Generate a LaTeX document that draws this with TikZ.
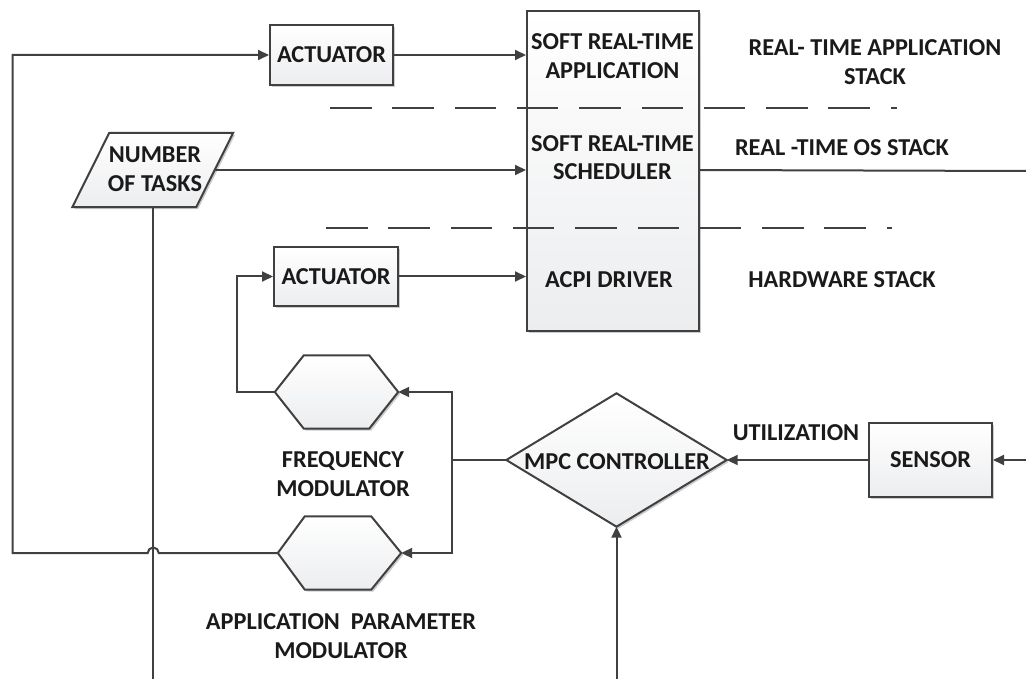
\documentclass[tikz,border=0pt]{standalone}
\usepackage{fontspec}
\setmainfont{Carlito}
\usetikzlibrary{arrows.meta,shadows,calc}
\definecolor{ink}{HTML}{1A1A1A}
\definecolor{wire}{HTML}{404040}
\definecolor{shadeend}{HTML}{ECEDEF}
\tikzset{
  lbl/.style={font=\bfseries\fontsize{24.3}{28.5}\selectfont, text=ink, align=center, inner sep=0pt},
  boxfill/.style={draw=wire, line width=2pt, top color=white, bottom color=shadeend,
    drop shadow={shadow xshift=2pt, shadow yshift=-2pt, opacity=0.2, fill=black}},
  blockbox/.style={boxfill, rectangle, inner sep=0pt},
  ghost/.style={rectangle, inner sep=0pt},
  wireline/.style={draw=wire, line width=2pt},
  flow/.style={wireline, -{Triangle[length=11pt,width=10pt]}},
  layerline/.style={draw=wire, line width=2pt, dash pattern=on 41.5pt off 20.8pt}
}
\begin{document}
\begin{tikzpicture}[x=1pt, y=-1pt]
\useasboundingbox (0,0) rectangle (1026,679);

% software stack block with its three layers
\node (stack) [blockbox, minimum width=172pt, minimum height=320pt] at (613,171) {};
\node (app)   [lbl] at (612.5,56) {SOFT REAL-TIME\\APPLICATION};
\node (sched) [lbl] at (612.5,157.5) {SOFT REAL-TIME\\SCHEDULER};
\node (acpi)  [lbl] at (609,280) {ACPI DRIVER};

% layer separators
\path[layerline] (330,108) -- (897,108);
\path[layerline] (326,228) -- (892,228);

% layer captions
\node (capapp)   [lbl] at (875,62) {REAL- TIME APPLICATION\\STACK};
\node (capos)    [lbl] at (842,148) {REAL -TIME OS STACK};
\node (caphw)    [lbl] at (842,280) {HARDWARE STACK};

% actuators
\node (act1) [blockbox, minimum width=123pt, minimum height=60pt, lbl] at (331.5,55) {ACTUATOR};
\node (act2) [blockbox, minimum width=124pt, minimum height=59pt, lbl] at (336,276.5) {ACTUATOR};

% number of tasks (parallelogram)
\node (nt) [ghost, minimum width=123.5pt, minimum height=74pt] at (152.75,170) {};
\coordinate (ntTL) at ([xshift=18.5pt]nt.north west);
\coordinate (ntTR) at ([xshift=18.5pt]nt.north east);
\coordinate (ntBR) at ([xshift=-18.5pt]nt.south east);
\coordinate (ntBL) at ([xshift=-18.5pt]nt.south west);
\path[boxfill] (ntTL) -- (ntTR) -- (ntBR) -- (ntBL) -- cycle;
\node (nttext) [lbl] at (155,169) {NUMBER\\OF TASKS};

% modulators (hexagons)
\node (fm)  [ghost, minimum width=123pt, minimum height=73pt] at (336.5,392) {};
\path[boxfill] (fm.west) -- ([xshift=29pt]fm.north west) -- ([xshift=-29pt]fm.north east)
  -- (fm.east) -- ([xshift=-29pt]fm.south east) -- ([xshift=29pt]fm.south west) -- cycle;
\node (fmtext) [lbl] at (343,474) {FREQUENCY\\MODULATOR};

\node (apm) [ghost, minimum width=123pt, minimum height=73pt] at (339.5,553) {};
\path[boxfill] (apm.west) -- ([xshift=27pt]apm.north west) -- ([xshift=-30pt]apm.north east)
  -- (apm.east) -- ([xshift=-30pt]apm.south east) -- ([xshift=27pt]apm.south west) -- cycle;
\node (apmtext) [lbl] at (341,636) {APPLICATION\ \ PARAMETER\\MODULATOR};

% controller (diamond)
\node (mpc) [ghost, minimum width=220pt, minimum height=133pt] at (616.5,460) {};
\path[boxfill] (mpc.west) -- (mpc.north) -- (mpc.east) -- (mpc.south) -- cycle;
\node (mpctext) [lbl] at (617,462) {MPC CONTROLLER};

% sensor
\node (sensor) [blockbox, minimum width=123pt, minimum height=74pt, lbl] at (930.5,460) {SENSOR};
\node (util) [lbl] at (796,433) {UTILIZATION};

% free ends at the picture border and bends
\coordinate (lbus)   at (12.5,553);
\coordinate (split)  at (452,460);
\coordinate (ntend)  at (152.75,679);
\coordinate (osend)  at (1026,171);
\coordinate (sensin) at (1026,460);
\coordinate (mpcin)  at (616.5,679);

% connectors into the stack
\draw[flow] (act1.east) -- (act1.east -| stack.west);
\draw[flow] (nt.east) -- (nt.east -| stack.west);
\draw[flow] (act2.east) -- (act2.east -| stack.west);
\draw[wireline] (stack.east |- nt.east) -- (osend);

% number of tasks feeds downward
\draw[wireline] (nt.south) -- (ntend);

% controller outputs
\draw[wireline] (mpc.west) -- (split);
\draw[flow] (split) |- (fm.east);
\draw[flow] (split) |- (apm.east);

% modulator outputs to actuators
\draw[flow] (fm.west) -- ++(-37.5pt,0) |- (act2.west);
\draw[flow] (apm.west) -- ([xshift=6pt]ntend |- apm.west)
  arc[start angle=0, end angle=180, radius=5.5pt] -- (lbus) |- (act1.west);

% sensing path
\draw[flow] (sensor.west) -- (mpc.east);
\draw[flow] (sensin) -- (sensor.east);
\draw[flow] (mpcin) -- (mpc.south);
\end{tikzpicture}
\end{document}
